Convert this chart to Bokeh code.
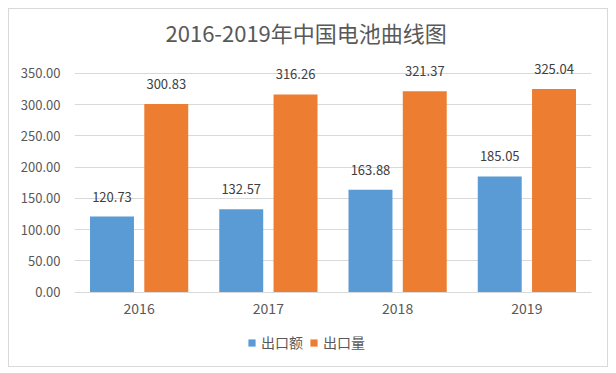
from bokeh.plotting import figure
from bokeh.models import ColumnDataSource, FactorRange, Range1d, NumeralTickFormatter, FixedTicker, Legend, LegendItem
from bokeh.transform import dodge
from bokeh.core.properties import value
from bokeh.embed import file_html
from bokeh.resources import INLINE

years = ["2016", "2017", "2018", "2019"]
export_value = [120.73, 132.57, 163.88, 185.05]
export_volume = [300.83, 316.26, 321.37, 325.04]
series_names = ["出口额", "出口量"]
colors = ["#5B9BD5", "#ED7D31"]
title_text = "2016-2019年中国电池曲线图"
y_ticks = [0, 50, 100, 150, 200, 250, 300, 350]

FONT = "Noto Sans CJK SC"

src = ColumnDataSource(dict(
    years=years, a=export_value, b=export_volume,
    la=["%.2f" % v for v in export_value],
    lb=["%.2f" % v for v in export_volume],
))

p = figure(width=600, height=359, x_range=FactorRange(*years), y_range=Range1d(-116, 385),
           output_backend="svg", toolbar_location=None, title=title_text,
           min_border_left=65, min_border_right=18, min_border_top=42, min_border_bottom=4)
p.styles = {"border": "1px solid #d9d9d9", "box-sizing": "border-box",
            "margin-left": "8px", "margin-top": "8px"}
p.outline_line_color = None
p.x_range.range_padding = 0

p.title.align = "left"
p.title.offset = 91
p.title.standoff = 7
p.title.text_font = FONT
p.title.text_font_size = "22px"
p.title.text_font_style = "normal"
p.title.text_color = "#595959"

r1 = p.vbar(x=dodge("years", -0.21, range=p.x_range), top="a", width=0.34, source=src,
            fill_color=colors[0], line_color=None)
r2 = p.vbar(x=dodge("years", 0.21, range=p.x_range), top="b", width=0.34, source=src,
            fill_color=colors[1], line_color=None)

for col, ycol, off in (("la", "a", -0.21), ("lb", "b", 0.21)):
    p.text(x=dodge("years", off, range=p.x_range), y=ycol, text=col, source=src,
           text_align="center", text_baseline="bottom", y_offset=-15,
           text_font=value(FONT), text_font_size="13px", text_color="#404040")

p.xgrid.grid_line_color = None
p.ygrid.grid_line_color = "#d9d9d9"
p.ygrid.ticker = FixedTicker(ticks=y_ticks)

p.yaxis.ticker = FixedTicker(ticks=y_ticks)
p.yaxis.formatter = NumeralTickFormatter(format="0.00")
p.yaxis.axis_line_color = None
p.yaxis.major_tick_line_color = None
p.yaxis.minor_tick_line_color = None
p.yaxis.major_label_standoff = 8
p.yaxis.major_label_text_font = FONT
p.yaxis.major_label_text_font_size = "13px"
p.yaxis.major_label_text_color = "#595959"

p.xaxis.fixed_location = 0
p.xaxis.axis_line_color = "#d9d9d9"
p.xaxis.major_tick_line_color = None
p.xaxis.minor_tick_line_color = None
p.xaxis.major_label_standoff = 5
p.xaxis.major_label_text_font = FONT
p.xaxis.major_label_text_font_size = "14px"
p.xaxis.major_label_text_color = "#595959"

legend = Legend(items=[LegendItem(label=series_names[0], renderers=[r1]),
                       LegendItem(label=series_names[1], renderers=[r2])],
                orientation="horizontal", location=(173, 12), margin=0, padding=0,
                spacing=6, glyph_width=9, glyph_height=9, label_standoff=5,
                label_text_font=FONT, label_text_font_size="14px", label_text_color="#595959",
                border_line_color=None, background_fill_alpha=0, label_height=14)
p.add_layout(legend, "center")

open("out.html", "w").write(file_html(p, INLINE))
